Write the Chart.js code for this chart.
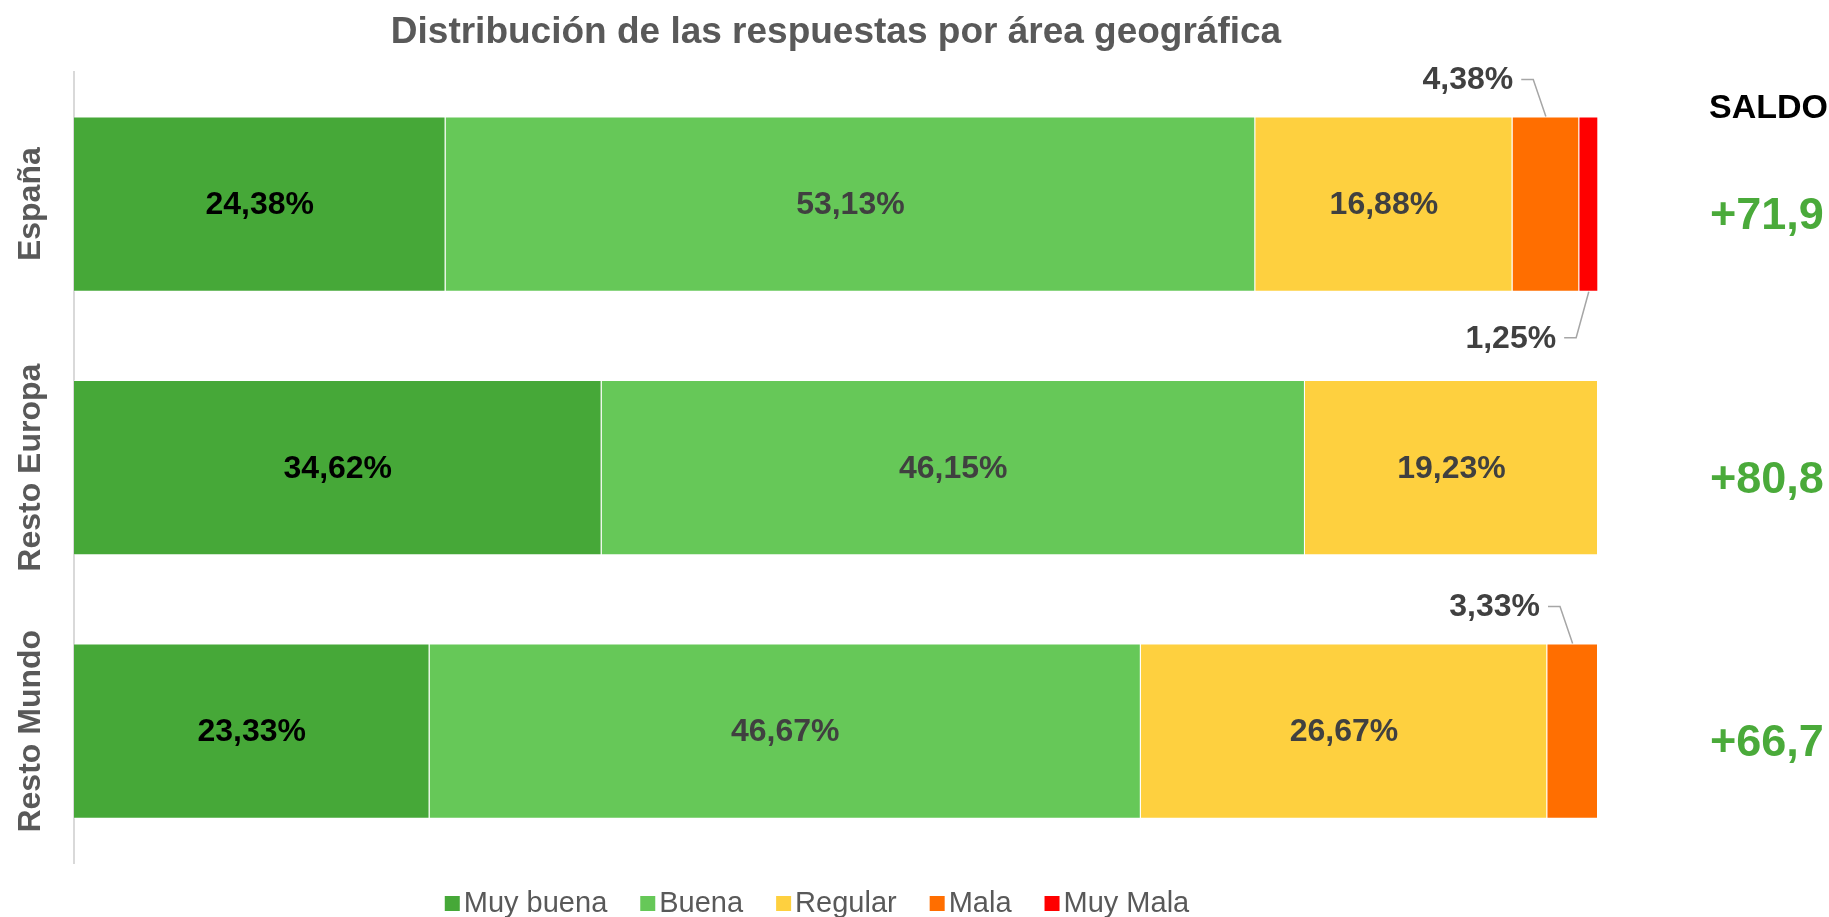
<!DOCTYPE html>
<html>
<head>
<meta charset="utf-8">
<script src="https://cdn.jsdelivr.net/npm/chart.js@4.4.1/dist/chart.umd.min.js"></script>
<style>
  html, body { margin: 0; padding: 0; background: #fff; }
  #wrap { width: 1829px; height: 917px; }
</style>
</head>
<body>
<div id="wrap"><canvas id="areaChart"></canvas></div>
<script>
// datos
const areas = ['España', 'Resto Europa', 'Resto Mundo'];
const muyBuena = [24.38, 34.62, 23.33];
const buena = [53.13, 46.15, 46.67];
const regular = [16.88, 19.23, 26.67];
const mala = [4.38, 0, 3.33];
const muyMala = [1.25, 0, 0];
const saldo = ['+71,9', '+80,8', '+66,7'];
const seriesNames = ['Muy buena', 'Buena', 'Regular', 'Mala', 'Muy Mala'];
const seriesColors = ['#46a838', '#66c858', '#fed03f', '#ff6e00', '#ff0000'];

const FONT = '"Liberation Sans", Arial, sans-serif';

function fmt(v) {
  return v.toFixed(2).replace('.', ',') + '%';
}

// etiquetas, saldo, categorias y leyenda
const extras = {
  id: 'extras',
  afterDraw(chart) {
    const ctx = chart.ctx;
    const area = chart.chartArea;
    const yScale = chart.scales.y;
    ctx.save();

    // nombres de area, girados
    ctx.fillStyle = '#595959';
    ctx.font = 'bold 32px ' + FONT;
    ctx.textAlign = 'center';
    ctx.textBaseline = 'alphabetic';
    areas.forEach((a, i) => {
      const y = yScale.getPixelForValue(i);
      ctx.save();
      ctx.translate(40, y);
      ctx.rotate(-Math.PI / 2);
      ctx.fillText(a, 0, 0);
      ctx.restore();
    });

    // valores dentro de las barras y llamadas
    ctx.font = 'bold 32px ' + FONT;
    chart.data.datasets.forEach((ds, di) => {
      const meta = chart.getDatasetMeta(di);
      meta.data.forEach((bar, j) => {
        const v = ds.data[j];
        if (!v) return;
        const p = bar.getProps(['x', 'y', 'base', 'height'], true);
        const cx = (p.x + p.base) / 2;
        const txt = fmt(v);
        if (v >= 8) {
          ctx.fillStyle = di === 0 ? '#000000' : '#404040';
          ctx.textAlign = 'center';
          ctx.textBaseline = 'middle';
          ctx.fillText(txt, cx, p.y + 1);
        } else {
          const top = di === 3;
          const ay = top ? p.y - p.height / 2 : p.y + p.height / 2;
          const ty = top ? ay - 36 : ay + 47;
          const tx = cx - 78;
          ctx.fillStyle = '#404040';
          ctx.textAlign = 'center';
          ctx.textBaseline = 'middle';
          ctx.fillText(txt, tx, ty);
          const w = ctx.measureText(txt).width;
          const sx = tx + w / 2 + 8;
          ctx.strokeStyle = '#a6a6a6';
          ctx.lineWidth = 1.5;
          ctx.beginPath();
          ctx.moveTo(sx, ty - 1);
          ctx.lineTo(sx + 12, ty - 1);
          ctx.lineTo(cx, ay);
          ctx.stroke();
        }
      });
    });

    // columna SALDO
    ctx.textAlign = 'left';
    ctx.textBaseline = 'alphabetic';
    ctx.fillStyle = '#000000';
    ctx.font = 'bold 34px ' + FONT;
    ctx.fillText('SALDO', 1709, 118);
    ctx.fillStyle = '#4aaa3a';
    ctx.font = 'bold 45px ' + FONT;
    saldo.forEach((s, i) => {
      ctx.fillText(s, 1710, yScale.getPixelForValue(i) + 25);
    });

    // leyenda
    ctx.font = '29px ' + FONT;
    const widths = chart.data.datasets.map(ds => ctx.measureText(ds.label).width);
    const total = widths.reduce((a, w) => a + 15 + 4 + w, 0) + 33 * (widths.length - 1);
    let x = (area.left + area.right) / 2 - 19 - total / 2;
    chart.data.datasets.forEach((ds, di) => {
      ctx.fillStyle = ds.backgroundColor;
      ctx.fillRect(x, 896, 15, 15);
      ctx.fillStyle = '#595959';
      ctx.fillText(ds.label, x + 19, 912);
      x += 15 + 4 + widths[di] + 33;
    });

    ctx.restore();
  }
};

const seriesData = [muyBuena, buena, regular, mala, muyMala];

new Chart(document.getElementById('areaChart'), {
  type: 'bar',
  data: {
    labels: areas,
    datasets: seriesData.map((d, i) => ({
      label: seriesNames[i],
      data: d,
      backgroundColor: seriesColors[i],
      borderColor: 'rgba(255,255,255,0.45)',
      borderWidth: 1,
      categoryPercentage: 1,
      barPercentage: 0.665
    }))
  },
  options: {
    indexAxis: 'y',
    responsive: true,
    maintainAspectRatio: false,
    animation: false,
    layout: {
      padding: { left: 66, right: 231, top: 0, bottom: 54 }
    },
    scales: {
      x: {
        stacked: true,
        min: 0,
        max: 100,
        display: false
      },
      y: {
        stacked: true,
        grid: { display: false },
        border: { display: true, color: '#d9d9d9', width: 2 },
        ticks: { display: false }
      }
    },
    plugins: {
      legend: { display: false },
      tooltip: { enabled: false },
      title: {
        display: true,
        fullSize: false,
        text: 'Distribución de las respuestas por área geográfica',
        color: '#595959',
        font: { family: FONT, size: 37, weight: 'bold' },
        padding: { top: 11, bottom: 17 }
      }
    }
  },
  plugins: [extras]
});
</script>
</body>
</html>
